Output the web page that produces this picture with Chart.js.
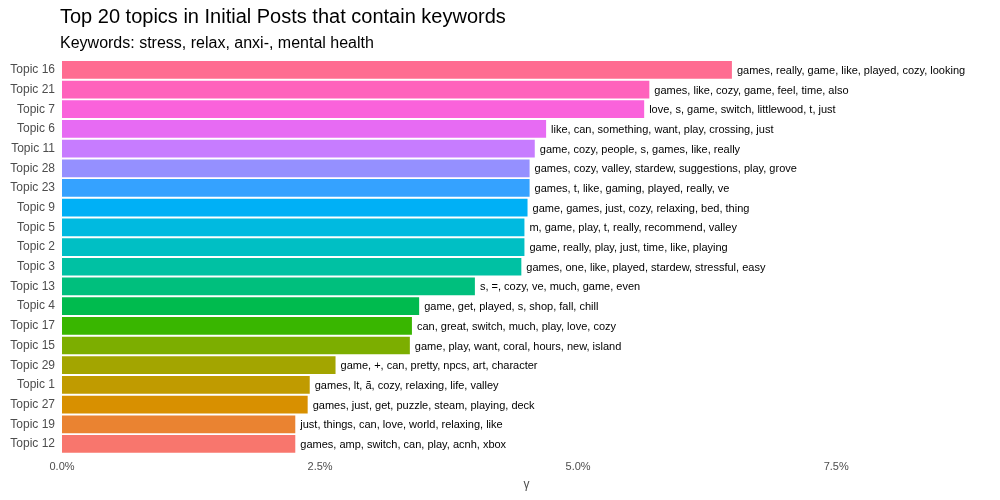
<!DOCTYPE html>
<html>
<head>
<meta charset="utf-8">
<script src="https://cdn.jsdelivr.net/npm/chart.js@4/dist/chart.umd.min.js"></script>
<style>
html,body{margin:0;padding:0;background:#fff;}
#wrap{position:relative;width:1000px;height:500px;}
</style>
</head>
<body>
<div id="wrap"><canvas id="c" width="1000" height="500"></canvas></div>
<script>
const titleText = "Top 20 topics in Initial Posts that contain keywords";
const subtitleText = "Keywords: stress, relax, anxi-, mental health";
const axisTitle = "\u03B3";

const topics = ["Topic 16","Topic 21","Topic 7","Topic 6","Topic 11","Topic 28","Topic 23","Topic 9","Topic 5","Topic 2",
  "Topic 3","Topic 13","Topic 4","Topic 17","Topic 15","Topic 29","Topic 1","Topic 27","Topic 19","Topic 12"];
const gamma = [0.0649,0.0569,0.0564,0.0469,0.0458,0.0453,0.0453,0.0451,0.0448,0.0448,
  0.0445,0.0400,0.0346,0.0339,0.0337,0.0265,0.0240,0.0238,0.0226,0.0226];
const terms = [
  "games, really, game, like, played, cozy, looking",
  "games, like, cozy, game, feel, time, also",
  "love, s, game, switch, littlewood, t, just",
  "like, can, something, want, play, crossing, just",
  "game, cozy, people, s, games, like, really",
  "games, cozy, valley, stardew, suggestions, play, grove",
  "games, t, like, gaming, played, really, ve",
  "game, games, just, cozy, relaxing, bed, thing",
  "m, game, play, t, really, recommend, valley",
  "game, really, play, just, time, like, playing",
  "games, one, like, played, stardew, stressful, easy",
  "s, =, cozy, ve, much, game, even",
  "game, get, played, s, shop, fall, chill",
  "can, great, switch, much, play, love, cozy",
  "game, play, want, coral, hours, new, island",
  "game, +, can, pretty, npcs, art, character",
  "games, lt, \u00e3, cozy, relaxing, life, valley",
  "games, just, get, puzzle, steam, playing, deck",
  "just, things, can, love, world, relaxing, like",
  "games, amp, switch, can, play, acnh, xbox"
];
const xTicks = [0, 0.025, 0.05, 0.075];

const barColors = ["#FF6C91","#FF62BC","#FA62DB","#E76BF3","#C77CFF","#9590FF","#35A2FF","#00B0F6","#00BAE0","#00BFC4",
  "#00C1A3","#00BF7D","#00BB4E","#39B600","#7CAE00","#A3A500","#C09B00","#D89000","#EA8331","#F8766D"];

const FONT = "'Liberation Sans', Arial, sans-serif";

const textPlugin = {
  id: 'texts',
  afterDatasetsDraw(chart) {
    const ctx = chart.ctx;
    const meta = chart.getDatasetMeta(0);
    ctx.save();
    ctx.font = "11px " + FONT;
    ctx.fillStyle = "#000000";
    ctx.textAlign = "left";
    ctx.textBaseline = "middle";
    meta.data.forEach((bar, i) => {
      ctx.fillText(terms[i], bar.x + 5, bar.y + 1);
    });
    ctx.restore();
  },
  afterDraw(chart) {
    const ctx = chart.ctx;
    const area = chart.chartArea;
    ctx.save();
    ctx.fillStyle = "#000000";
    ctx.textAlign = "left";
    ctx.textBaseline = "alphabetic";
    ctx.font = "20px " + FONT;
    ctx.fillText(titleText, 60, 23);
    ctx.font = "16px " + FONT;
    ctx.fillText(subtitleText, 60, 48);
    ctx.fillStyle = "#4D4D4D";
    ctx.textAlign = "center";
    ctx.textBaseline = "middle";
    ctx.font = "12px " + FONT;
    ctx.fillText(axisTitle, (area.left + area.right) / 2, 485);
    ctx.restore();
  }
};

new Chart(document.getElementById('c'), {
  type: 'bar',
  data: {
    labels: topics,
    datasets: [{
      data: gamma,
      backgroundColor: barColors,
      borderWidth: 0,
      barPercentage: 0.9,
      categoryPercentage: 1.0
    }]
  },
  options: {
    indexAxis: 'y',
    responsive: false,
    animation: false,
    devicePixelRatio: 1,
    layout: { padding: { top: 60, right: 9, bottom: 19, left: 0 } },
    plugins: {
      legend: { display: false },
      tooltip: { enabled: false },
      title: { display: false }
    },
    scales: {
      x: {
        min: 0,
        max: 0.09,
        afterBuildTicks(scale) { scale.ticks = xTicks.map(v => ({ value: v })); },
        grid: { display: false, drawTicks: false },
        border: { display: false },
        ticks: {
          color: "#4D4D4D",
          font: { family: FONT, size: 11 },
          padding: 7,
          maxRotation: 0,
          callback: v => (v * 100).toFixed(1) + "%"
        },
        title: { display: false }
      },
      y: {
        grid: { display: false, drawTicks: false },
        border: { display: false },
        afterFit(scale) { scale.width = 62; },
        ticks: {
          color: "#4D4D4D",
          font: { family: FONT, size: 12 },
          padding: 7
        }
      }
    }
  },
  plugins: [textPlugin]
});
</script>
</body>
</html>
